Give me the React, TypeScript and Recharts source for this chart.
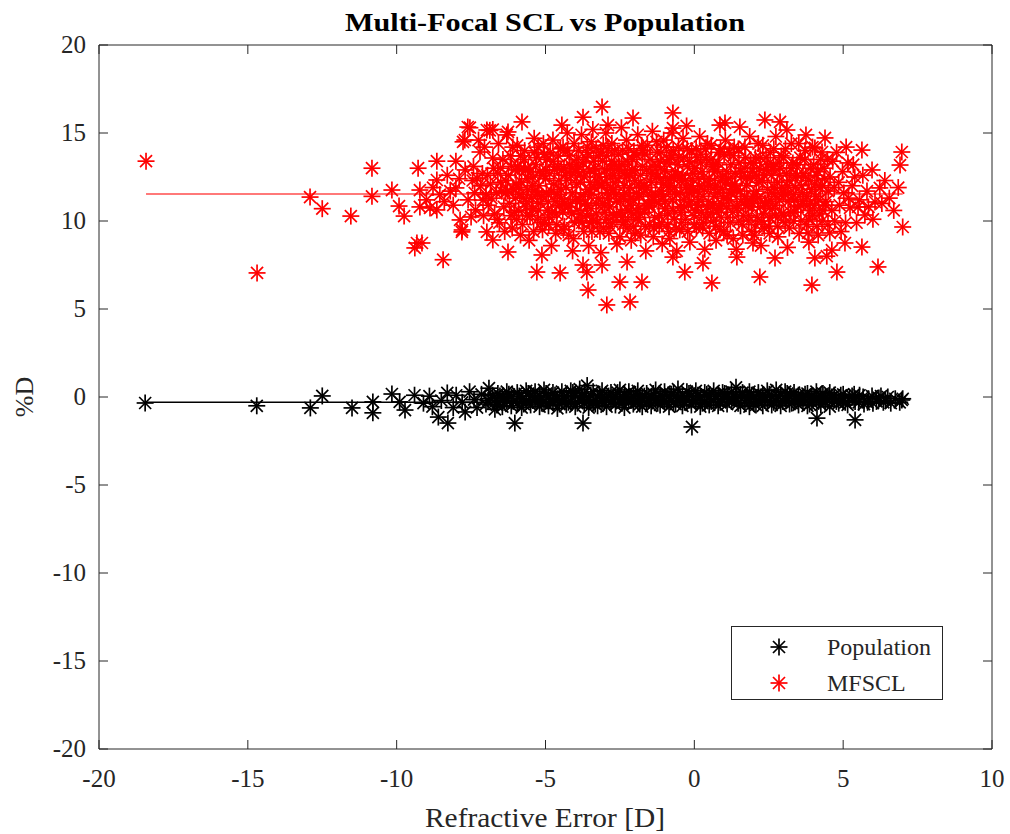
import React from "react";
import { ScatterChart, Scatter, XAxis, YAxis, Legend } from "recharts";

// MATLAB-ish look: serif text, dark-gray box, inward ticks, '*' markers
const AXIS = "#262626";
const FONT = '"Liberation Serif", "Times New Roman", serif';

const X_TICKS = [-20, -15, -10, -5, 0, 5, 10];
const Y_TICKS = [-20, -15, -10, -5, 0, 5, 10, 15, 20];

// [refractive error, %D]
const populationPoints: [number, number][] = [
  [-18.45, -0.34], [-14.7, -0.5], [-12.9, -0.62], [-12.5, 0.06], [-11.5, -0.62],
  [-10.8, -0.28], [-10.8, -0.9], [-10.16, 0.17], [-9.9, -0.28], [-9.72, -0.74],
  [-9.4, 0.1], [-9.1, -0.35], [-8.6, -1.14], [-8.28, -1.48], [-8.3, 0.23],
  [-8.9, 0.05], [-8.8, -0.55], [-8.5, -0.2], [-8.1, -0.6], [-8.0, 0.1],
  [-7.8, -0.3], [-7.7, -0.85], [-7.55, 0.3], [-7.4, -0.15], [-7.3, -0.6],
  [-7.15, 0.15], [-7.0, -0.4], [-6.9, 0.5], [-6.85, -0.1], [-6.7, -0.7],
  [-6.6, 0.2], [-6.6, -0.3], [-6.45, -0.05], [-6.45, -0.55], [-6.3, 0.3], [-6.3, -0.2],
  [-6.15, 0.0], [-6.15, -0.5], [-6.03, -1.48], [-5.95, 0.25], [-5.95, -0.35],
  [-5.8, -0.1], [-5.8, -0.6], [-5.65, 0.35], [-5.65, -0.25], [-5.5, 0.05], [-5.5, -0.45],
  [-5.35, -0.15], [-5.35, 0.3], [-5.2, -0.55], [-5.2, 0.1], [-5.05, -0.25], [-5.05, 0.4],
  [-4.9, 0.0], [-4.9, -0.5], [-4.75, 0.25], [-4.75, -0.3], [-4.6, -0.1], [-4.6, -0.65],
  [-4.45, 0.3], [-4.45, -0.2], [-4.3, 0.05], [-4.3, -0.45], [-4.15, -0.25], [-4.15, 0.35],
  [-4.0, 0.1], [-4.0, -0.55], [-3.85, -0.05], [-3.85, 0.45], [-3.74, -1.48],
  [-3.7, 0.2], [-3.7, -0.35], [-3.6, 0.65], [-3.55, -0.15], [-3.55, -0.6],
  [-3.4, 0.3], [-3.4, -0.25], [-3.25, 0.0], [-3.25, -0.5], [-3.1, 0.35], [-3.1, -0.2],
  [-2.95, -0.05], [-2.95, -0.55], [-2.8, 0.25], [-2.8, -0.3], [-2.65, 0.05], [-2.65, -0.45],
  [-2.5, -0.15], [-2.5, 0.4], [-2.35, 0.15], [-2.35, -0.6], [-2.2, -0.1], [-2.2, 0.3],
  [-2.05, 0.05], [-2.05, -0.4], [-1.9, 0.35], [-1.9, -0.25], [-1.75, -0.05], [-1.75, -0.55],
  [-1.6, 0.2], [-1.6, -0.3], [-1.45, 0.0], [-1.45, -0.5], [-1.3, 0.4], [-1.3, -0.15],
  [-1.15, 0.1], [-1.15, -0.45], [-1.0, -0.2], [-1.0, 0.3], [-0.85, 0.05], [-0.85, -0.55],
  [-0.7, 0.25], [-0.7, -0.3], [-0.55, 0.45], [-0.55, -0.1], [-0.4, 0.1], [-0.4, -0.5],
  [-0.25, -0.2], [-0.25, 0.3], [-0.08, -1.7], [-0.1, 0.05], [-0.1, -0.45],
  [0.05, 0.35], [0.05, -0.2], [0.2, 0.0], [0.2, -0.55], [0.35, 0.25], [0.35, -0.3],
  [0.5, 0.05], [0.5, -0.45], [0.65, -0.15], [0.65, 0.35], [0.8, 0.15], [0.8, -0.5],
  [0.95, -0.1], [0.95, 0.25], [1.1, 0.05], [1.1, -0.4], [1.25, 0.3], [1.25, -0.25],
  [1.4, 0.55], [1.4, -0.05], [1.55, -0.5], [1.55, 0.15], [1.7, 0.0], [1.7, -0.3],
  [1.85, 0.3], [1.85, -0.55], [2.0, 0.05], [2.0, -0.35], [2.15, 0.25], [2.15, -0.15],
  [2.3, -0.5], [2.3, 0.1], [2.45, 0.35], [2.45, -0.25], [2.6, 0.0], [2.6, -0.45],
  [2.75, 0.4], [2.75, -0.2], [2.9, 0.1], [2.9, -0.5], [3.05, -0.1], [3.05, 0.3],
  [3.2, 0.05], [3.2, -0.4], [3.35, 0.25], [3.35, -0.2], [3.5, -0.45], [3.5, 0.1],
  [3.65, 0.0], [3.65, -0.25], [3.8, 0.2], [3.8, -0.5], [3.95, 0.05], [3.95, -0.3],
  [4.1, 0.3], [4.1, -0.1], [4.12, -1.2], [4.25, -0.45], [4.25, 0.1], [4.4, 0.0], [4.4, -0.3],
  [4.55, 0.25], [4.55, -0.55], [4.7, -0.1], [4.7, 0.1], [4.85, -0.35], [5.0, 0.15], [5.0, -0.2],
  [5.15, -0.45], [5.3, 0.05], [5.4, -1.3], [5.4, -0.25], [5.55, 0.1], [5.7, -0.4],
  [5.85, -0.1], [6.0, -0.35], [6.2, -0.05], [6.35, -0.3], [6.5, 0.0], [6.9, -0.3],
  [6.97, -0.17], [7.0, -0.1],
  [-6.93, -0.2], [-6.78, 0.1], [-6.63, -0.45], [-6.53, 0.05], [-6.38, -0.3], [-6.23, 0.15],
  [-6.08, -0.25], [-5.88, 0.05], [-5.73, -0.4], [-5.58, 0.2], [-5.43, -0.2], [-5.28, 0.0],
  [-5.13, -0.35], [-4.98, 0.2], [-4.83, -0.15], [-4.68, 0.1], [-4.53, -0.4], [-4.38, 0.0],
  [-4.23, -0.3], [-4.08, 0.25], [-3.93, -0.35], [-3.78, 0.05], [-3.63, -0.2], [-3.48, 0.1],
  [-3.33, -0.4], [-3.18, 0.15], [-3.03, -0.3], [-2.88, 0.05], [-2.73, -0.15], [-2.58, 0.25],
  [-2.43, -0.35], [-2.28, 0.0], [-2.13, -0.2], [-1.98, 0.15], [-1.83, -0.4], [-1.68, 0.05],
  [-1.53, -0.2], [-1.38, 0.2], [-1.23, -0.35], [-1.08, 0.0], [-0.93, -0.25], [-0.78, 0.15],
  [-0.63, -0.4], [-0.48, 0.0], [-0.33, -0.3], [-0.18, 0.2], [-0.03, -0.15], [0.12, 0.1],
  [0.27, -0.35], [0.42, 0.15], [0.57, -0.25], [0.72, 0.05], [0.87, -0.3], [1.02, 0.2],
  [1.17, -0.15], [1.32, 0.0], [1.47, -0.35], [1.62, 0.25], [1.77, -0.1], [1.92, 0.1],
  [2.07, -0.45], [2.22, 0.0], [2.37, -0.2], [2.52, 0.15], [2.67, -0.3], [2.82, 0.05],
  [2.97, -0.25], [3.12, 0.2], [3.27, -0.35], [3.42, 0.0], [3.57, -0.15], [3.72, 0.15],
  [3.87, -0.4], [4.02, 0.0], [4.17, -0.25], [4.32, 0.2], [4.47, -0.15], [4.62, 0.0],
  [4.77, -0.25], [4.92, 0.1], [5.07, -0.3], [5.22, -0.05], [5.37, 0.15], [5.52, -0.3],
  [5.67, 0.0], [5.82, -0.3], [5.97, 0.05], [6.12, -0.25], [6.27, 0.05], [6.42, -0.2],
  [6.6, -0.35], [6.75, -0.1],
];

const mfsclPoints: [number, number][] = [
  // stragglers and cloud edge
  [-18.42, 13.4], [-14.69, 7.05], [-12.91, 11.36], [-12.5, 10.7], [-11.54, 10.28],
  [-10.83, 13.0], [-10.83, 11.4], [-10.16, 11.76], [-9.92, 10.85], [-9.75, 10.28],
  [-9.28, 13.0], [-9.22, 11.76], [-9.22, 10.8], [-9.32, 8.75], [-9.39, 8.47], [-9.15, 8.75],
  [-8.44, 7.8], [-8.65, 13.4], [-8.65, 12.33], [-8.01, 13.4], [-8.01, 11.88], [-8.2, 11.7],
  [-8.88, 10.74], [-8.65, 10.63], [-8.4, 11.1], [-7.87, 10.06], [-7.8, 9.49], [-7.81, 9.38],
  [-7.61, 15.34], [-7.54, 15.3], [-7.71, 14.6], [-7.77, 14.5], [-6.97, 15.17], [-6.87, 15.15],
  [-6.77, 15.2], [-7.2, 13.92], [-6.77, 13.58], [-7.1, 11.19], [-6.97, 9.38], [-6.77, 8.92],
  [-6.26, 8.24], [-6.26, 15.06], [-6.3, 14.89], [-7.5, 10.23], [-7.35, 10.63], [-7.3, 12.44],
  [-5.79, 15.63], [-5.25, 14.2], [-4.75, 14.6], [-4.45, 15.45], [-3.74, 15.9], [-3.1, 16.48],
  [-2.9, 15.45], [-2.06, 15.85], [-0.72, 16.14], [-0.72, 15.28], [0.86, 15.45], [1.03, 15.57],
  [1.53, 15.34], [2.37, 15.74], [2.88, 15.63], [3.11, 15.17], [3.75, 14.89], [4.39, 14.72],
  [4.05, 14.15], [4.29, 13.92], [5.63, 14.03], [6.97, 13.92], [6.91, 13.18], [5.16, 13.3],
  [5.97, 12.9], [5.39, 12.5], [6.23, 11.88], [6.07, 11.08], [5.73, 10.34], [5.23, 10.74],
  [7.0, 9.66], [5.63, 8.52], [5.06, 8.75], [6.17, 7.39], [4.79, 7.1], [4.05, 7.9],
  [4.62, 8.35], [3.95, 6.36], [2.2, 6.82], [0.59, 6.48], [1.43, 7.95], [2.71, 7.9],
  [1.97, 8.75], [4.55, 9.32], [3.82, 9.32], [-5.29, 7.1], [-4.51, 7.05], [-3.61, 7.1],
  [-2.5, 6.53], [-1.76, 6.53], [-3.57, 6.08], [-2.94, 5.23], [-2.16, 5.4], [-0.32, 7.1],
  [-3.1, 7.5], [-3.74, 7.5], [-5.12, 8.07], [0.29, 7.61], [-0.72, 7.95], [-2.26, 7.67],
  // main cloud
  [-7.42, 13.1], [-7.38, 11.6], [-7.05, 14.2], [-7.12, 12.7], [-6.92, 10.9], [-6.85, 12.1],
  [-6.71, 10.4], [-6.58, 14.4], [-6.52, 13.0], [-6.47, 11.7], [-6.55, 9.9], [-6.33, 12.3],
  [-6.18, 13.7], [-6.21, 11.0], [-6.12, 9.6], [-6.05, 10.5],
  [-5.95, 14.3], [-5.88, 12.9], [-5.91, 11.9], [-5.84, 9.2], [-5.72, 13.5], [-5.66, 10.8],
  [-5.61, 12.4], [-5.55, 8.9], [-5.47, 11.3], [-5.38, 14.7], [-5.33, 13.2], [-5.28, 10.1],
  [-5.22, 12.0], [-5.1, 9.5], [-5.04, 13.8], [-4.97, 11.6], [-4.93, 10.6], [-4.86, 12.7],
  [-4.8, 8.6], [-4.74, 13.4], [-4.68, 11.1], [-4.62, 9.8], [-4.55, 12.3], [-4.5, 14.1],
  [-4.42, 10.5], [-4.38, 13.0], [-4.31, 11.9], [-4.27, 15.0], [-4.22, 9.2], [-4.15, 12.6],
  [-4.09, 8.3], [-4.04, 14.4], [-3.98, 11.2], [-3.95, 13.5], [-3.88, 10.0], [-3.83, 12.2],
  [-3.79, 14.9], [-3.71, 9.4], [-3.66, 11.6], [-3.6, 13.9], [-3.55, 8.6], [-3.52, 12.9],
  [-3.47, 10.7], [-3.41, 15.2], [-3.36, 11.9], [-3.3, 14.1], [-3.26, 9.9], [-3.2, 12.5],
  [-3.14, 8.2], [-3.08, 13.4], [-3.03, 10.9], [-2.97, 15.0], [-2.93, 11.6], [-2.87, 9.3],
  [-2.82, 13.0], [-2.77, 14.4], [-2.71, 10.3], [-2.66, 12.2], [-2.6, 8.7], [-2.55, 13.8],
  [-2.49, 11.1], [-2.45, 15.3], [-2.39, 9.8], [-2.33, 12.7], [-2.28, 14.6], [-2.23, 10.6],
  [-2.17, 11.9], [-2.12, 8.9], [-2.07, 13.5], [-2.01, 12.3], [-1.96, 10.1], [-1.9, 14.9],
  [-1.85, 11.4], [-1.8, 9.2], [-1.74, 13.1], [-1.69, 12.0], [-1.63, 8.3], [-1.58, 14.3],
  [-1.52, 10.8], [-1.47, 12.7], [-1.41, 15.1], [-1.36, 9.6], [-1.3, 11.5], [-1.25, 13.9],
  [-1.19, 10.3], [-1.14, 12.4], [-1.08, 8.7], [-1.03, 14.6],
  [-0.97, 11.1], [-0.92, 13.3], [-0.86, 9.4], [-0.81, 12.0], [-0.75, 15.0], [-0.7, 10.6],
  [-0.64, 12.8], [-0.59, 8.3], [-0.53, 14.2], [-0.48, 11.6], [-0.42, 9.9], [-0.37, 13.6],
  [-0.31, 12.3], [-0.26, 15.4], [-0.2, 10.9], [-0.15, 8.8], [-0.09, 14.0], [-0.04, 11.8],
  [0.02, 13.0], [0.07, 9.6], [0.13, 12.4], [0.18, 14.8], [0.24, 10.5], [0.29, 11.4],
  [0.35, 8.4], [0.4, 13.5], [0.46, 12.1], [0.51, 9.3], [0.57, 14.3], [0.62, 10.9],
  [0.68, 12.8], [0.73, 8.9], [0.79, 11.6], [0.84, 13.9], [0.9, 10.2], [0.95, 12.5],
  [1.04, 14.6], [1.1, 9.2], [1.16, 11.2], [1.22, 13.2], [1.29, 10.5], [1.35, 12.1],
  [1.41, 8.4], [1.48, 14.1], [1.54, 11.7], [1.6, 9.8], [1.67, 13.0], [1.73, 10.9],
  [1.79, 12.5], [1.86, 14.8], [1.92, 9.4], [1.98, 11.4], [2.05, 13.6], [2.11, 10.2],
  [2.17, 12.2], [2.24, 8.6], [2.3, 14.3], [2.36, 11.0], [2.43, 12.9], [2.49, 9.7],
  [2.55, 13.9], [2.62, 10.7], [2.68, 11.9], [2.74, 14.8], [2.81, 9.1], [2.87, 12.6], [2.93, 10.4],
  [3.0, 13.6], [3.07, 11.5], [3.13, 8.5], [3.2, 12.3], [3.26, 14.4], [3.33, 10.0],
  [3.39, 11.9], [3.45, 13.2], [3.52, 9.3], [3.58, 10.9], [3.65, 12.7], [3.72, 14.0],
  [3.78, 11.4], [3.85, 8.8], [3.91, 13.0], [3.98, 10.3], [4.05, 12.1], [4.12, 9.7],
  [4.18, 11.2], [4.25, 13.5], [4.32, 10.6], [4.38, 12.4], [4.45, 8.0], [4.5, 11.7],
  [4.65, 13.4], [4.72, 10.0], [4.85, 12.2], [4.93, 9.4], [5.02, 11.6], [5.1, 14.2],
  [5.3, 12.0], [5.45, 9.9], [5.55, 11.2], [5.85, 10.8], [6.4, 12.3], [6.55, 11.3],
  [6.7, 10.6], [6.85, 11.9],
  [-4.47, 12.9], [-4.35, 11.0], [-4.2, 13.7], [-4.12, 10.4], [-3.93, 12.8], [-3.85, 11.1],
  [-3.74, 13.3], [-3.62, 10.3], [-3.49, 12.2], [-3.44, 9.4], [-3.33, 13.0], [-3.22, 11.3],
  [-3.11, 12.0], [-3.05, 9.6], [-2.95, 13.7], [-2.84, 10.8], [-2.74, 12.6], [-2.63, 11.5],
  [-2.52, 13.1], [-2.42, 10.2], [-2.36, 12.0], [-2.25, 13.4], [-2.14, 11.3], [-2.04, 9.7],
  [-1.98, 12.9], [-1.87, 10.7], [-1.77, 11.9], [-1.66, 13.8], [-1.55, 11.0], [-1.44, 12.2],
  [-1.33, 10.2], [-1.22, 13.1], [-1.11, 11.7], [-1.0, 12.9], [-0.89, 10.4], [-0.78, 13.7],
  [-0.67, 11.9], [-0.56, 12.6], [-0.45, 10.5], [-0.34, 11.2], [-0.23, 13.1], [-0.12, 12.0],
  [-0.01, 10.3], [0.1, 11.7], [0.21, 13.3], [0.32, 12.5], [0.43, 10.8], [0.54, 12.0],
  [0.65, 13.1], [0.76, 10.5], [0.87, 12.3], [0.98, 11.3], [1.09, 12.8], [1.2, 11.6],
  [1.31, 13.7], [1.43, 10.9], [1.56, 12.8], [1.69, 11.4], [1.82, 10.3], [1.95, 12.8],
  [2.08, 11.7], [2.2, 13.0], [2.33, 10.4], [2.46, 11.8], [2.59, 12.6], [2.72, 10.9],
  [2.85, 13.3], [3.1, 12.7], [3.35, 11.2], [3.6, 12.0], [3.88, 10.6], [4.15, 12.8],
  [-5.6, 11.8], [-5.42, 12.5], [-5.18, 11.0], [-5.0, 12.4], [-4.88, 10.2], [-4.6, 11.5],
  [-6.0, 11.3], [-6.4, 10.8], [-6.25, 12.6], [-6.65, 11.6], [-7.0, 11.5],
  [-5.97, 10.1], [-5.93, 13.1], [-5.86, 11.5], [-5.8, 12.2], [-5.77, 9.8], [-5.7, 14.0],
  [-5.64, 11.1], [-5.58, 13.0], [-5.52, 10.3], [-5.45, 12.0], [-5.4, 9.4], [-5.35, 11.7],
  [-5.3, 13.6], [-5.24, 10.6], [-5.19, 12.8], [-5.13, 11.4], [-5.07, 14.4], [-5.02, 9.9],
  [-4.99, 12.9], [-4.91, 11.1], [-4.84, 13.9], [-4.78, 10.5], [-4.72, 12.1], [-4.66, 9.3],
  [-4.6, 13.1], [-4.53, 10.9], [-4.48, 11.8], [-4.41, 14.2], [-4.36, 9.7], [-4.29, 12.3],
  [-4.24, 10.8], [-4.18, 13.2], [-4.1, 11.6], [-4.06, 9.0], [-4.0, 12.8], [-3.94, 10.6],
  [-3.89, 14.0], [-3.82, 11.4], [-3.77, 9.9], [-3.7, 12.5], [-3.64, 13.6], [-3.58, 10.9],
  [-3.53, 11.8], [-3.46, 14.5], [-3.4, 10.0], [-3.34, 12.7], [-3.29, 11.0], [-3.23, 13.7],
  [-3.17, 9.4], [-3.12, 12.1], [-3.06, 14.3], [-3.0, 10.5], [-2.94, 12.5], [-2.89, 11.3],
  [-2.83, 9.7], [-2.78, 13.4], [-2.72, 11.8], [-2.67, 14.0], [-2.61, 10.4], [-2.56, 12.4],
  [-2.5, 9.1], [-2.44, 13.2], [-2.38, 11.4], [-2.32, 10.0], [-2.27, 12.5], [-2.21, 14.1],
  [-2.16, 10.9], [-2.1, 12.9], [-2.05, 11.2], [-1.99, 9.3], [-1.93, 13.7], [-1.88, 12.1],
  [-1.82, 10.4], [-1.77, 14.3], [-1.71, 11.6], [-1.65, 9.7], [-1.6, 12.9], [-1.54, 10.9],
  [-1.49, 13.5], [-1.43, 11.4], [-1.38, 9.1], [-1.32, 12.7], [-1.27, 14.5], [-1.21, 11.0],
  [-1.15, 13.4], [-1.1, 9.9], [-1.04, 12.1], [-0.99, 10.7], [-0.93, 14.2], [-0.88, 11.9],
  [-0.82, 9.0], [-0.77, 12.5], [-0.71, 14.0], [-0.66, 10.1], [-0.6, 11.5], [-0.55, 13.2],
  [-0.49, 9.5], [-0.44, 12.3], [-0.38, 14.7], [-0.33, 10.8], [-0.27, 11.9], [-0.22, 9.4],
  [-0.16, 13.4], [-0.11, 11.1], [-0.05, 12.7], [0.0, 9.8], [0.06, 14.1], [0.11, 10.9],
  [0.17, 12.0], [0.22, 13.8], [0.28, 9.6], [0.33, 11.8], [0.39, 10.2], [0.44, 14.4],
  [0.5, 12.4], [0.55, 10.4], [0.61, 13.2], [0.66, 11.4], [0.72, 9.7], [0.77, 12.9],
  [0.83, 10.7], [0.88, 14.1], [0.94, 11.8], [0.99, 9.4], [1.05, 12.2], [1.12, 10.2],
  [1.18, 13.9], [1.24, 11.6], [1.31, 9.0], [1.37, 12.7], [1.44, 10.7], [1.5, 13.3],
  [1.57, 11.1], [1.63, 9.2], [1.7, 14.2], [1.76, 12.0], [1.83, 10.0], [1.89, 13.3],
  [1.96, 11.0], [2.02, 9.2], [2.09, 12.6], [2.15, 14.4], [2.22, 10.8], [2.28, 12.3],
  [2.35, 9.6], [2.41, 13.6], [2.48, 11.1], [2.54, 10.2], [2.61, 12.9], [2.67, 14.1],
  [2.74, 11.4], [2.8, 9.7], [2.87, 13.0], [2.94, 11.9], [3.0, 10.3], [3.06, 14.1],
  [3.13, 12.0], [3.19, 9.6], [3.25, 13.0], [3.32, 11.5], [3.38, 10.5], [3.45, 12.6],
  [3.51, 14.4], [3.58, 10.0], [3.64, 11.6], [3.71, 13.5], [3.77, 9.8], [3.84, 12.3],
  [3.9, 11.0], [3.97, 14.2], [4.03, 10.9], [4.1, 12.6], [4.16, 9.2], [4.23, 11.9],
  [4.29, 10.0], [4.36, 13.0], [4.42, 11.1], [4.49, 9.8], [4.56, 12.5], [4.62, 10.6],
  [4.7, 11.9], [4.78, 13.9], [4.88, 10.9], [4.98, 12.8], [5.08, 9.9], [5.18, 11.3],
  [5.34, 13.2], [5.5, 10.8], [5.66, 12.6], [5.8, 11.7], [6.0, 10.1], [6.3, 11.0],
  [-6.02, 12.9], [-6.1, 14.2], [-6.16, 10.3], [-6.28, 11.7], [-6.37, 9.4], [-6.43, 13.5],
  [-6.5, 12.2], [-6.62, 10.1], [-6.74, 13.0], [-6.82, 11.3], [-6.95, 12.6], [-7.08, 10.3],
  [-7.18, 12.0], [-7.25, 14.6], [-7.45, 12.3], [-7.6, 11.2], [-7.7, 12.9], [-7.9, 12.4],
  [-8.1, 10.9], [-8.3, 12.6], [-8.55, 11.5], [-8.78, 11.9], [-9.0, 11.2],
  [-5.5, 12.8], [-5.43, 10.7], [-5.37, 13.9], [-5.27, 11.5], [-5.16, 9.9], [-5.08, 12.6],
  [-4.95, 13.5], [-4.89, 9.8], [-4.81, 11.7], [-4.7, 12.9], [-4.63, 10.4], [-4.57, 13.7],
  [-4.46, 11.3], [-4.4, 9.5], [-4.33, 12.6], [-4.26, 14.0], [-4.17, 11.0], [-4.11, 13.0],
  [-4.03, 9.9], [-3.96, 12.1], [-3.9, 13.1], [-3.81, 10.4], [-3.73, 12.8], [-3.67, 11.0],
  [-3.59, 14.2], [-3.51, 9.9], [-3.45, 11.5], [-3.38, 13.4], [-3.3, 10.4], [-3.24, 12.2],
  [-3.16, 13.9], [-3.09, 11.0], [-3.01, 12.9], [-2.96, 10.1], [-2.9, 14.1], [-2.81, 11.9],
  [-2.75, 9.9], [-2.69, 13.2], [-2.62, 11.1], [-2.54, 12.9], [-2.47, 10.5], [-2.41, 14.0],
  [-2.34, 11.6], [-2.26, 9.6], [-2.19, 12.7], [-2.11, 10.5], [-2.03, 13.9], [-1.95, 11.6],
  [-1.89, 10.2], [-1.81, 12.6], [-1.73, 14.0], [-1.67, 10.5], [-1.59, 11.9], [-1.5, 9.8],
  [-1.42, 13.1], [-1.35, 11.2], [-1.26, 12.5], [-1.18, 9.7], [-1.12, 13.9], [-1.05, 11.4],
  [-0.96, 12.5], [-0.9, 9.8], [-0.83, 13.5], [-0.74, 11.2], [-0.68, 12.4], [-0.61, 9.6],
  [-0.52, 13.6], [-0.46, 10.8], [-0.39, 12.6], [-0.3, 10.1], [-0.24, 14.1], [-0.17, 11.6],
  [-0.07, 12.4], [0.03, 10.6], [0.09, 13.6], [0.15, 11.2], [0.26, 12.8], [0.31, 9.9],
  [0.37, 14.1], [0.48, 11.1], [0.56, 13.5], [0.64, 10.0], [0.7, 11.9], [0.8, 13.3],
  [0.86, 9.5], [0.92, 11.0], [1.0, 13.8], [1.07, 10.8], [1.14, 12.4], [1.21, 9.9],
  [1.27, 12.0], [1.34, 14.2], [1.42, 11.8], [1.49, 10.0], [1.58, 12.5], [1.65, 10.3],
  [1.72, 13.6], [1.8, 11.2], [1.87, 12.4], [1.93, 10.8], [2.0, 13.3], [2.06, 9.8],
  [2.13, 11.3], [2.21, 13.6], [2.27, 10.0], [2.34, 12.6], [2.4, 11.0], [2.47, 13.2],
  [2.53, 9.3], [2.6, 11.6], [2.66, 13.1], [2.73, 10.3], [2.79, 12.2], [2.86, 11.2],
  [2.92, 13.7], [2.99, 11.6], [3.05, 9.9], [3.15, 11.1], [3.23, 10.5], [3.31, 13.3],
  [3.4, 12.5], [3.48, 10.8], [3.56, 13.6], [3.66, 11.1], [3.74, 12.5], [3.83, 10.1],
  [3.93, 11.8], [4.01, 13.2], [4.08, 11.4], [4.2, 10.4], [4.3, 12.0], [4.4, 10.9],
  [4.47, 13.5], [-5.62, 10.3], [-5.68, 12.9], [-5.75, 11.3], [-5.83, 13.7], [-5.9, 10.6],
  [-5.99, 12.1], [-6.08, 11.8], [-6.14, 13.1], [-6.35, 11.6], [-6.6, 12.7],
];

// mean lines drawn across the data range
const populationMean: [number, number][] = [[-18.45, -0.3], [7.0, -0.3]];
const mfsclMean: [number, number][] = [[-18.42, 11.53], [7.0, 11.53]];

const toXY = (pts: [number, number][]) => pts.map(([x, y]) => ({ x, y }));

function starAt(cx: number, cy: number, color: string, key?: string) {
  return (
    <g key={key} stroke={color} strokeWidth={1.7} fill="none">
      <line x1={cx - 8.5} y1={cy} x2={cx + 8.5} y2={cy} />
      <line x1={cx} y1={cy - 8.5} x2={cx} y2={cy + 8.5} />
      <line x1={cx - 6} y1={cy - 6} x2={cx + 6} y2={cy + 6} />
      <line x1={cx - 6} y1={cy + 6} x2={cx + 6} y2={cy - 6} />
    </g>
  );
}

const star = (color: string) => (props: any) => {
  const { cx, cy } = props;
  if (cx == null || cy == null) return <g />;
  return starAt(cx, cy, color);
};

const noShape = () => <g />;

function BottomTick({ x, y, payload }: any) {
  return (
    <g>
      <line x1={x} y1={y} x2={x} y2={y - 9} stroke={AXIS} />
      <text x={x} y={y + 38} textAnchor="middle" fontSize={25} fill={AXIS} fontFamily={FONT}>
        {payload.value}
      </text>
    </g>
  );
}

function TopTick({ x, y }: any) {
  return <line x1={x} y1={y} x2={x} y2={y + 9} stroke={AXIS} />;
}

function LeftTick({ x, y, payload }: any) {
  return (
    <g>
      <line x1={x} y1={y} x2={x + 9} y2={y} stroke={AXIS} />
      <text x={x - 13} y={y + 8} textAnchor="end" fontSize={25} fill={AXIS} fontFamily={FONT}>
        {payload.value}
      </text>
    </g>
  );
}

function RightTick({ x, y }: any) {
  return <line x1={x} y1={y} x2={x - 9} y2={y} stroke={AXIS} />;
}

function LegendBox() {
  return (
    <svg width={212} height={74} style={{ display: "block" }}>
      <rect x={0.5} y={0.5} width={211} height={73} fill="#fff" stroke={AXIS} />
      {starAt(48, 21, "#000", "p")}
      {starAt(48, 57, "#ff0000", "m")}
      <text x={96} y={29} fontSize={24} fill={AXIS} fontFamily={FONT}>Population</text>
      <text x={96} y={65} fontSize={24} fill={AXIS} fontFamily={FONT}>MFSCL</text>
    </svg>
  );
}

export default function App() {
  return (
    <div style={{ position: "absolute", left: 0, top: 0, width: 1010, height: 834, background: "#fff" }}>
      <ScatterChart width={1010} height={834} margin={{ top: 0, right: 0, bottom: 0, left: 0 }}>
        <XAxis
          xAxisId="bottom"
          type="number"
          dataKey="x"
          orientation="bottom"
          height={85}
          domain={[-20, 10]}
          ticks={X_TICKS}
          interval={0}
          allowDataOverflow
          tickLine={false}
          tickSize={0}
          tickMargin={0}
          axisLine={{ stroke: AXIS }}
          tick={BottomTick}
        />
        <XAxis
          xAxisId="top"
          type="number"
          dataKey="x"
          orientation="top"
          height={45}
          domain={[-20, 10]}
          ticks={X_TICKS}
          interval={0}
          allowDataOverflow
          tickLine={false}
          tickSize={0}
          tickMargin={0}
          axisLine={{ stroke: AXIS }}
          tick={TopTick}
        />
        <YAxis
          yAxisId="left"
          type="number"
          dataKey="y"
          width={99}
          domain={[-20, 20]}
          ticks={Y_TICKS}
          interval={0}
          allowDataOverflow
          tickLine={false}
          tickSize={0}
          tickMargin={0}
          axisLine={{ stroke: AXIS }}
          tick={LeftTick}
        />
        <YAxis
          yAxisId="right"
          type="number"
          dataKey="y"
          orientation="right"
          width={18}
          domain={[-20, 20]}
          ticks={Y_TICKS}
          interval={0}
          allowDataOverflow
          tickLine={false}
          tickSize={0}
          tickMargin={0}
          axisLine={{ stroke: AXIS }}
          tick={RightTick}
        />
        <Scatter
          name="Population mean"
          data={toXY(populationMean)}
          xAxisId="bottom"
          yAxisId="left"
          line={{ stroke: "#000000", strokeWidth: 1.5 }}
          shape={noShape}
          legendType="none"
          isAnimationActive={false}
        />
        <Scatter
          name="MFSCL mean"
          data={toXY(mfsclMean)}
          xAxisId="bottom"
          yAxisId="left"
          line={{ stroke: "#ff4d4d", strokeWidth: 1.5 }}
          shape={noShape}
          legendType="none"
          isAnimationActive={false}
        />
        <Scatter
          name="Population"
          data={toXY(populationPoints)}
          xAxisId="bottom"
          yAxisId="left"
          shape={star("#000000")}
          isAnimationActive={false}
        />
        <Scatter
          name="MFSCL"
          data={toXY(mfsclPoints)}
          xAxisId="bottom"
          yAxisId="left"
          shape={star("#ff0000")}
          isAnimationActive={false}
        />
        <Legend
          layout="vertical"
          align="center"
          verticalAlign="middle"
          wrapperStyle={{ left: 731, top: 626, width: 212, height: 74 }}
          content={() => <LegendBox />}
        />
        <text x={545} y={31} textAnchor="middle" fontSize={25} fontWeight="bold" fill="#000" fontFamily={FONT} textLength={400} lengthAdjust="spacingAndGlyphs">
          Multi-Focal SCL vs Population
        </text>
        <text x={545} y={827} textAnchor="middle" fontSize={27} fill={AXIS} fontFamily={FONT} textLength={240} lengthAdjust="spacingAndGlyphs">
          Refractive Error [D]
        </text>
        <text x={0} y={0} transform="translate(33,397) rotate(-90)" textAnchor="middle" fontSize={26} fill={AXIS} fontFamily={FONT}>
          %D
        </text>
      </ScatterChart>
    </div>
  );
}
